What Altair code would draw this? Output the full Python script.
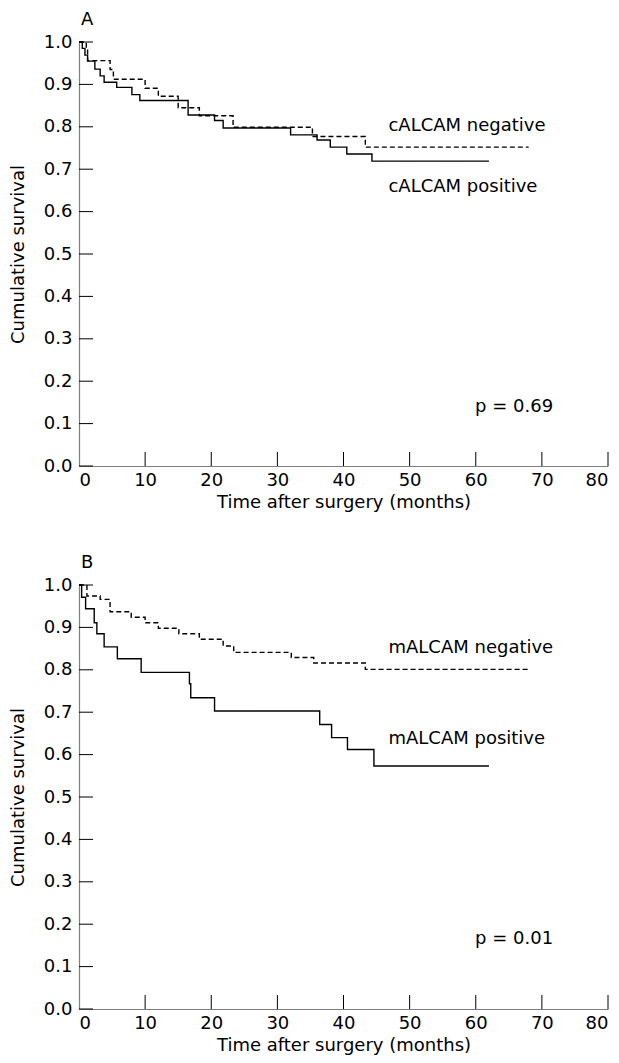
import altair as alt
import pandas as pd

# ---------------- data ----------------
# Panel A (cALCAM)
a_pos_t = [0, 0.5, 0.9, 1.3, 2.4, 3.2, 3.8, 5.7, 8.0, 9.2, 16.5, 20.5, 21.8, 32.0, 36.0, 38.0, 40.5, 44.3, 62.0]
a_pos_s = [1.0, 0.985, 0.969, 0.955, 0.936, 0.92, 0.905, 0.893, 0.876, 0.862, 0.828, 0.815, 0.797, 0.781, 0.769, 0.752, 0.736, 0.719, 0.719]
a_neg_t = [0, 1.1, 1.3, 4.7, 5.2, 10.0, 12.0, 15.0, 18.2, 23.3, 35.3, 43.3, 68.0]
a_neg_s = [1.0, 0.985, 0.956, 0.935, 0.912, 0.891, 0.872, 0.845, 0.826, 0.799, 0.777, 0.752, 0.752]

# Panel B (mALCAM)
b_pos_t = [0, 0.4, 1.0, 2.3, 2.7, 3.8, 5.8, 9.4, 16.7, 16.9, 20.5, 36.4, 38.2, 40.6, 44.6, 62.0]
b_pos_s = [1.0, 0.971, 0.944, 0.911, 0.885, 0.854, 0.826, 0.794, 0.767, 0.734, 0.703, 0.671, 0.640, 0.612, 0.573, 0.573]
b_neg_t = [0, 1.2, 3.2, 4.7, 7.9, 10.0, 12.0, 15.1, 18.2, 21.8, 23.4, 32.1, 35.5, 43.3, 68.3]
b_neg_s = [1.0, 0.974, 0.966, 0.937, 0.924, 0.911, 0.898, 0.885, 0.872, 0.856, 0.841, 0.829, 0.816, 0.801, 0.801]

x_ticks = [0, 10, 20, 30, 40, 50, 60, 70, 80]
y_ticks = [0.0, 0.1, 0.2, 0.3, 0.4, 0.5, 0.6, 0.7, 0.8, 0.9, 1.0]

a_labels = ["cALCAM negative", "cALCAM positive", "p = 0.69"]
a_label_t = [46.8, 46.8, 59.9]
a_label_s = [0.801, 0.657, 0.139]

b_labels = ["mALCAM negative", "mALCAM positive", "p = 0.01"]
b_label_t = [46.8, 46.8, 59.9]
b_label_s = [0.852, 0.637, 0.165]

# ---------------- chart ----------------
W, H = 529, 424
FONT = "DejaVu Sans"
FS = 18
TICK = 14


def panel(letter, pos_t, pos_s, neg_t, neg_s, labels, lab_t, lab_s):
    df = pd.concat([
        pd.DataFrame({"t": neg_t, "s": neg_s, "group": "negative"}),
        pd.DataFrame({"t": pos_t, "s": pos_s, "group": "positive"}),
    ])
    xs = alt.Scale(domain=[0, 80], nice=False, zero=False)
    ys = alt.Scale(domain=[0, 1], nice=False, zero=False)
    lines = alt.Chart(df).mark_line(
        interpolate="step-after", color="black", strokeWidth=1.4
    ).encode(
        x=alt.X("t:Q", scale=xs, axis=alt.Axis(
            values=x_ticks, title="Time after surgery (months)", tickSize=0,
            labelPadding=5, titlePadding=4, grid=False, domainColor="#7f7f7f",
            domainWidth=1.2)),
        y=alt.Y("s:Q", scale=ys, axis=alt.Axis(
            values=y_ticks, format=".1f", title="Cumulative survival", tickSize=0,
            labelPadding=7, titlePadding=16, grid=False, domainColor="#7f7f7f",
            domainWidth=1.2)),
        strokeDash=alt.StrokeDash("group:N", scale=alt.Scale(
            domain=["negative", "positive"], range=[[5, 3], [1, 0]]), legend=None),
        detail="group:N",
    )
    yt = alt.Chart(pd.DataFrame({"s": y_ticks})).mark_rule(color="black", strokeWidth=1).encode(
        y=alt.Y("s:Q", scale=ys), x=alt.value(0), x2=alt.value(TICK))
    xt = alt.Chart(pd.DataFrame({"t": x_ticks[1:]})).mark_rule(color="black", strokeWidth=1).encode(
        x=alt.X("t:Q", scale=xs), y=alt.value(H), y2=alt.value(H - TICK))
    ann = alt.Chart(pd.DataFrame({"label": labels, "t": lab_t, "s": lab_s})).mark_text(
        align="left", baseline="middle", font=FONT, fontSize=FS, color="black"
    ).encode(x=alt.X("t:Q", scale=xs), y=alt.Y("s:Q", scale=ys), text="label:N")
    return alt.layer(lines, yt, xt, ann).properties(
        width=W, height=H,
        title=alt.TitleParams(letter, anchor="start", frame="group", font=FONT, fontSize=FS,
                              fontWeight="normal", color="black", offset=4, dx=2),
    )


pa = panel("A", a_pos_t, a_pos_s, a_neg_t, a_neg_s, a_labels, a_label_t, a_label_s)
pb = panel("B", b_pos_t, b_pos_s, b_neg_t, b_neg_s, b_labels, b_label_t, b_label_s)

chart = alt.vconcat(pa, pb, spacing=43).properties(
    padding={"left": 1, "top": 3, "right": 0, "bottom": 2},
    background="white",
).configure_view(stroke=None).configure_axis(
    labelFont=FONT, titleFont=FONT, labelFontSize=FS, titleFontSize=FS,
    titleFontWeight="normal", labelColor="black", titleColor="black",
)

chart.save("out.html", embed_options={"renderer": "svg", "actions": False})
